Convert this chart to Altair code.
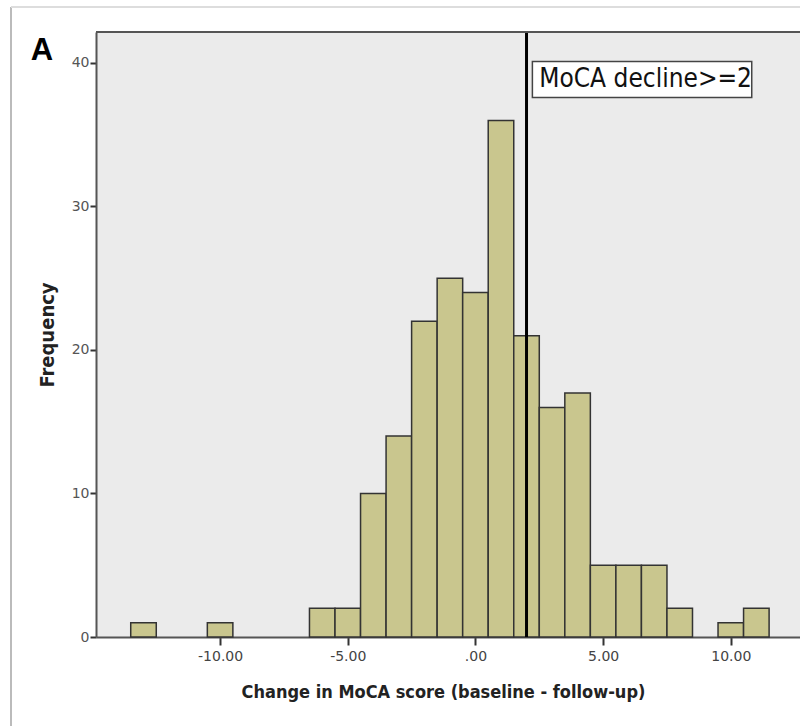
import altair as alt
import pandas as pd

# Histogram data (bin centers and counts)
centers = [-13, -10, -6, -5, -4, -3, -2, -1, 0, 1, 2, 3, 4, 5, 6, 7, 8, 10, 11]
counts = [1, 1, 2, 2, 10, 14, 22, 25, 24, 36, 21, 16, 17, 5, 5, 5, 2, 1, 2]
x_ticks = [-10, -5, 0, 5, 10]
y_ticks = [0, 10, 20, 30, 40]
cutoff = [2]
label_text = ["MoCA decline>=2"]

bars = pd.DataFrame({
    "lo": [c - 0.5 for c in centers],
    "hi": [c + 0.5 for c in centers],
    "count": counts,
})
line_df = pd.DataFrame({"x": cutoff})
box_df = pd.DataFrame({"x": [2.23], "x2": [10.82], "y": [40.1], "y2": [37.6]})
txt_df = pd.DataFrame({"x": [2.5], "y": [38.85], "t": label_text})

XD = [-14.86, 12.71]
YD = [0, 42.16]

xs = alt.Scale(domain=XD, nice=False, zero=False)
ys = alt.Scale(domain=YD, nice=False, zero=False)

x_axis = alt.Axis(
    values=x_ticks,
    labelExpr="(datum.value < 0 ? '-' : '') + (datum.value == 0 ? '.00' : format(abs(datum.value), '.2f'))",
    title="Change in MoCA score (baseline - follow-up)",
    titleX=347, titleY=55, titleAnchor="start", titleAlign="center", titleBaseline="middle",
    titleFont="DejaVu Sans Condensed", titleFontSize=18, titleFontWeight="bold", titleColor="#222",
    labelFont="DejaVu Sans", labelFontSize=14, labelColor="#444", labelPadding=4,
    tickSize=8, tickWidth=2, tickColor="#333",
    domainColor="#555", domainWidth=2, grid=False,
)
y_axis = alt.Axis(
    values=y_ticks,
    title="Frequency",
    titleFont="DejaVu Sans Condensed", titleFontSize=20, titleFontWeight="bold", titleColor="#222",
    titlePadding=14,
    labelFont="DejaVu Sans", labelFontSize=14, labelColor="#555", labelPadding=1,
    tickSize=6, tickWidth=2, tickColor="#333",
    domainColor="#555", domainWidth=2, grid=False,
)

hist = alt.Chart(bars).mark_rect(
    fill="#C9C68E", stroke="#333", strokeWidth=1.5
).encode(
    x=alt.X("lo:Q", scale=xs, axis=x_axis),
    x2="hi:Q",
    y=alt.Y("count:Q", scale=ys, axis=y_axis),
    y2=alt.datum(0),
)

vline = alt.Chart(line_df).mark_rule(color="black", strokeWidth=3).encode(
    x=alt.X("x:Q", scale=xs),
    y=alt.value(0),
    y2=alt.value(605),
)

box = alt.Chart(box_df).mark_rect(fill="white", stroke="#444", strokeWidth=1.5).encode(
    x=alt.X("x:Q", scale=xs), x2="x2:Q",
    y=alt.Y("y:Q", scale=ys), y2="y2:Q",
)

txt = alt.Chart(txt_df).mark_text(
    align="left", baseline="middle", font="DejaVu Sans Condensed", fontSize=26, color="#111"
).encode(
    x=alt.X("x:Q", scale=xs),
    y=alt.Y("y:Q", scale=ys),
    text="t:N",
)

frame_top = alt.Chart(line_df).mark_rule(color="#555", strokeWidth=2).encode(
    x=alt.value(0), x2=alt.value(720), y=alt.value(0)
)
outer_left = alt.Chart(line_df).mark_rule(color="#BBB", strokeWidth=2).encode(
    x=alt.value(-85), y=alt.value(-25), y2=alt.value(700)
)
outer_top = alt.Chart(line_df).mark_rule(color="#DDD", strokeWidth=2).encode(
    x=alt.value(-85), x2=alt.value(720), y=alt.value(-25)
)
panel_label = alt.Chart(line_df).mark_text(
    text="A", font="Liberation Sans", fontSize=31, fontWeight="bold", color="black",
    align="center", baseline="middle"
).encode(x=alt.value(-54), y=alt.value(19))

chart = alt.layer(
    outer_left, outer_top, hist, vline, frame_top, box, txt, panel_label
).properties(
    width=704, height=605,
    autosize=alt.AutoSizeParams(type="none"),
    padding={"left": 96, "top": 32, "right": 0, "bottom": 89},
    background="white",
).configure_view(
    fill="#EBEBEB", stroke=None
)

chart.save("out.html", embed_options={"renderer": "svg", "actions": False})
